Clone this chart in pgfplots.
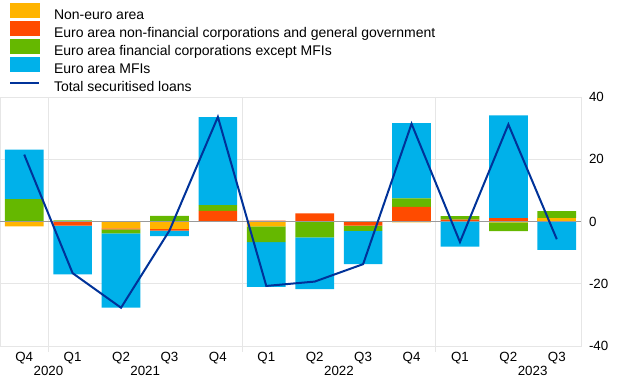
\documentclass[border=0pt]{standalone}
\usepackage{pgfplots}
\pgfplotsset{compat=1.18}
\usepackage{pgfplotstable}
\usepackage{fontspec}
\setmainfont{Liberation Sans}
\definecolor{cOr}{HTML}{FFB400}
\definecolor{cRed}{HTML}{FF4B00}
\definecolor{cGreen}{HTML}{65B800}
\definecolor{cBlue}{HTML}{00B1EA}
\definecolor{cLine}{HTML}{003299}
\definecolor{cGrid}{HTML}{E6E6E6}
\definecolor{cZero}{HTML}{9A9A9A}

\pgfplotstableread{
x o r g b t
0 -1.6 0 7.2 15.9 21.5
1 0 -1.3 0.4 -15.7 -16.6
2 -2.2 -0.3 -1.3 -23.9 -27.7
3 -2.4 -0.5 1.8 -1.8 -2.9
4 0 3.4 1.9 28.2 33.6
5 -1.6 0.3 -5.0 -14.4 -20.7
6 0 2.6 -5.1 -16.6 -19.3
7 0 -1.3 -1.7 -10.7 -13.7
8 -0.3 4.7 2.7 24.2 31.4
9 0 0.6 1.1 -8.1 -6.6
10 -0.3 1.1 -2.8 33.0 31.2
11 1.1 0 2.2 -9.1 -5.7
}\data

\pgfplotsset{
  base/.style={
    at={(0pt,30.75pt)}, anchor=south west, scale only axis,
    width=435.75pt, height=186.75pt,
    xmin=-0.5, xmax=11.5, ymin=-40, ymax=40,
  },
}

\begin{document}
\begin{tikzpicture}
\path[use as bounding box] (0,0) rectangle (465pt,290.25pt);

% axis 1: frame, grid, ticks, positive parts
\begin{axis}[base, ybar stacked, bar width=0.8,
  axis line style={draw=cGrid, line width=0.75pt},
  ymajorgrids, grid style={draw=cGrid, line width=0.75pt},
  xtick={0,...,11},
  xticklabels={Q4,Q1,Q2,Q3,Q4,Q1,Q2,Q3,Q4,Q1,Q2,Q3},
  ytick={-40,-20,0,20,40},
  yticklabel pos=right,
  xtick style={draw=none}, ytick style={draw=none},
  /pgf/number format/assume math mode=true,
  tick label style={font=\fontsize{10}{12}\selectfont},
  yticklabel style={xshift=2.5pt},
  xticklabel style={yshift=-1.2pt},
  clip=false,
]
\draw[cGrid, line width=0.75pt] (axis cs:0.5,40) -- ([yshift=-4.5pt]axis cs:0.5,-40);
\draw[cGrid, line width=0.75pt] (axis cs:4.5,40) -- ([yshift=-4.5pt]axis cs:4.5,-40);
\draw[cGrid, line width=0.75pt] (axis cs:8.5,40) -- ([yshift=-4.5pt]axis cs:8.5,-40);
\addplot[fill=cOr, draw=none] table[x=x, y expr={max(\thisrow{o},0)}]{\data};
\addplot[fill=cRed, draw=none] table[x=x, y expr={max(\thisrow{r},0)}]{\data};
\addplot[fill=cGreen, draw=none] table[x=x, y expr={max(\thisrow{g},0)}]{\data};
\addplot[fill=cBlue, draw=none] table[x=x, y expr={max(\thisrow{b},0)}]{\data};
\node[anchor=north, inner sep=0pt, font=\fontsize{10}{12}\selectfont] at (axis cs:0.5,-40) [yshift=-15pt] {2020};
\node[anchor=north, inner sep=0pt, font=\fontsize{10}{12}\selectfont] at (axis cs:2.5,-40) [yshift=-15pt] {2021};
\node[anchor=north, inner sep=0pt, font=\fontsize{10}{12}\selectfont] at (axis cs:6.5,-40) [yshift=-15pt] {2022};
\node[anchor=north, inner sep=0pt, font=\fontsize{10}{12}\selectfont] at (axis cs:10.5,-40) [yshift=-15pt] {2023};
\end{axis}

% axis 2: negative parts
\begin{axis}[base, ybar stacked, bar width=0.8, hide axis]
\addplot[fill=cOr, draw=none] table[x=x, y expr={min(\thisrow{o},0)}]{\data};
\addplot[fill=cRed, draw=none] table[x=x, y expr={min(\thisrow{r},0)}]{\data};
\addplot[fill=cGreen, draw=none] table[x=x, y expr={min(\thisrow{g},0)}]{\data};
\addplot[fill=cBlue, draw=none] table[x=x, y expr={min(\thisrow{b},0)}]{\data};
\end{axis}

% axis 3: zero line, total line, legend
\begin{axis}[base, hide axis, clip=false,
  legend cell align=left,
  legend style={draw=none, fill=none, inner sep=0pt, outer sep=0pt,
    at={(0,1)}, anchor=north west, xshift=6.75pt, yshift=70.5pt,
    row sep=-0.6pt,
    font=\fontsize{10.5}{12.6}\selectfont,
    nodes={inner sep=0pt, text height=7.8pt, text depth=2.2pt},
    /tikz/every odd column/.append style={column sep=10.5pt}},
]
\draw[cZero, line width=0.6pt] (axis cs:-0.5,0) -- (axis cs:11.5,0);
\addlegendimage{legend image code/.code={\fill[cOr] (0pt,-1.5pt) rectangle (21.75pt,9pt);}}
\addlegendentry{Non-euro area}
\addlegendimage{legend image code/.code={\fill[cRed] (0pt,-1.5pt) rectangle (21.75pt,9pt);}}
\addlegendentry{Euro area non-financial corporations and general government}
\addlegendimage{legend image code/.code={\fill[cGreen] (0pt,-1.5pt) rectangle (21.75pt,9pt);}}
\addlegendentry{Euro area financial corporations except MFIs}
\addlegendimage{legend image code/.code={\fill[cBlue] (0pt,-1.5pt) rectangle (21.75pt,9pt);}}
\addlegendentry{Euro area MFIs}
\addplot[cLine, line width=1.5pt, mark=none,
  legend image code/.code={\path[draw=none, fill=none] (0pt,-1.5pt) rectangle (21.75pt,9pt); \draw[cLine, line width=1.5pt] (0pt,3.75pt) -- (21.75pt,3.75pt);}]
  table[x=x, y=t]{\data};
\addlegendentry{Total securitised loans}
\end{axis}
\end{tikzpicture}
\end{document}
